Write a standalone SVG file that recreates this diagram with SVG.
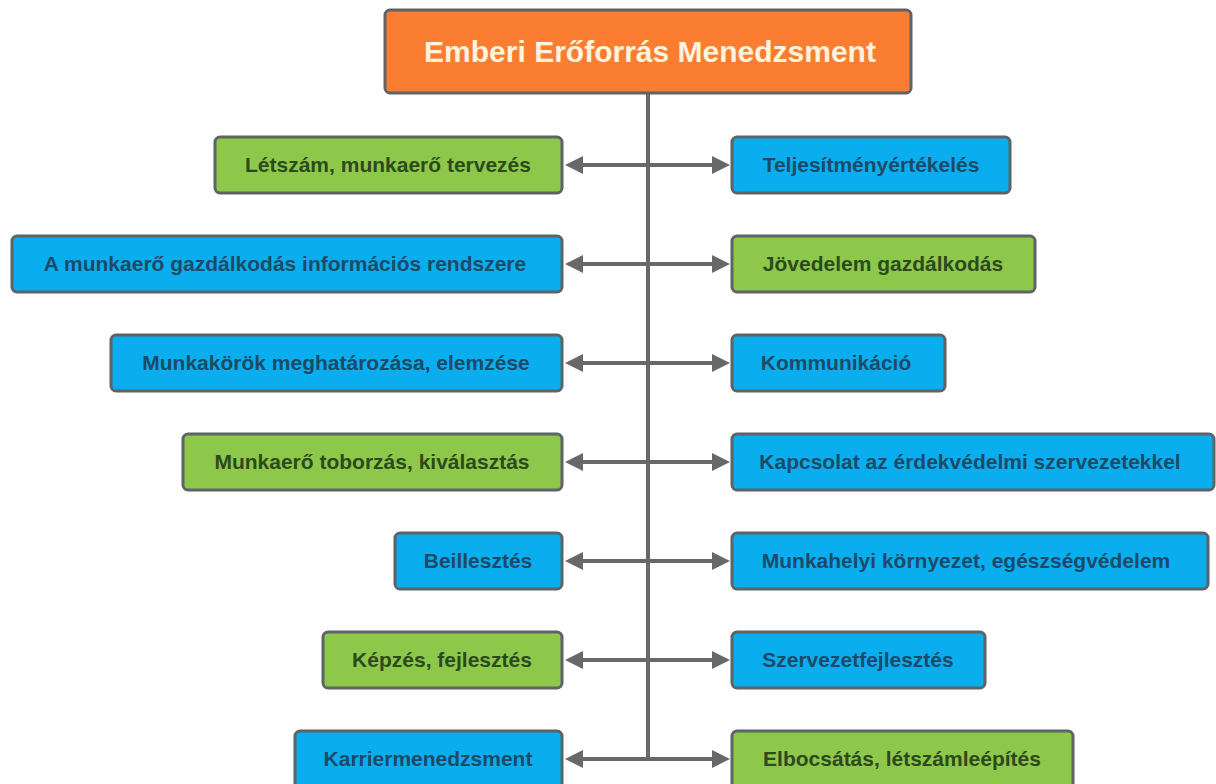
<svg xmlns="http://www.w3.org/2000/svg" width="1216" height="784" viewBox="0 0 1216 784">
  <style>
    .box { stroke: #5d6367; stroke-width: 3; }
    .blue { fill: #0aaeef; }
    .green { fill: #8dc84b; }
    .title { fill: #fa7d32; }
    .lbl { font-family: "Liberation Sans", Arial, sans-serif; font-weight: bold; font-size: 21px; text-anchor: middle; }
    .tb { fill: #1d4a66; }
    .tg { fill: #2c4a1d; }
    .tt { fill: #fff3dc; font-size: 30px; }
    .wire { stroke: #686868; stroke-width: 4; fill: none; }
  </style>
  <defs>
    <marker id="arrow" markerUnits="userSpaceOnUse" markerWidth="20" markerHeight="20" refX="8" refY="9" orient="auto">
      <path d="M0,0 L18,9 L0,18 z" fill="#686868"/>
    </marker>
  </defs>
  <rect width="1216" height="784" fill="#ffffff"/>

  <!-- connectors: central spine and a two-way branch per row -->
  <g id="connectors" class="wire">
    <path d="M648,93 V760"/>
    <path d="M648,165 H575" marker-end="url(#arrow)"/>
    <path d="M648,165 H720" marker-end="url(#arrow)"/>
    <path d="M648,264 H575" marker-end="url(#arrow)"/>
    <path d="M648,264 H720" marker-end="url(#arrow)"/>
    <path d="M648,363 H575" marker-end="url(#arrow)"/>
    <path d="M648,363 H720" marker-end="url(#arrow)"/>
    <path d="M648,462 H575" marker-end="url(#arrow)"/>
    <path d="M648,462 H720" marker-end="url(#arrow)"/>
    <path d="M648,561 H575" marker-end="url(#arrow)"/>
    <path d="M648,561 H720" marker-end="url(#arrow)"/>
    <path d="M648,660 H575" marker-end="url(#arrow)"/>
    <path d="M648,660 H720" marker-end="url(#arrow)"/>
    <path d="M648,759 H575" marker-end="url(#arrow)"/>
    <path d="M648,759 H720" marker-end="url(#arrow)"/>
  </g>

  <g id="root">
    <rect class="box title" x="385" y="10" width="526" height="83" rx="5"/>
    <text class="lbl tt" x="650" y="62">Emberi Erőforrás Menedzsment</text>
  </g>

  <!-- left column -->
  <g id="letszam">
    <rect class="box green" x="215" y="137" width="347" height="56" rx="5"/>
    <text class="lbl tg" x="388" y="172">Létszám, munkaerő tervezés</text>
  </g>
  <g id="informacios">
    <rect class="box blue" x="12" y="236" width="550" height="56" rx="5"/>
    <text class="lbl tb" x="285" y="271">A munkaerő gazdálkodás információs rendszere</text>
  </g>
  <g id="munkakorok">
    <rect class="box blue" x="111" y="335" width="451" height="56" rx="5"/>
    <text class="lbl tb" x="336" y="370">Munkakörök meghatározása, elemzése</text>
  </g>
  <g id="toborzas">
    <rect class="box green" x="183" y="434" width="379" height="56" rx="5"/>
    <text class="lbl tg" x="372" y="469">Munkaerő toborzás, kiválasztás</text>
  </g>
  <g id="beillesztes">
    <rect class="box blue" x="395" y="533" width="167" height="56" rx="5"/>
    <text class="lbl tb" x="478" y="568">Beillesztés</text>
  </g>
  <g id="kepzes">
    <rect class="box green" x="323" y="632" width="239" height="56" rx="5"/>
    <text class="lbl tg" x="442" y="667">Képzés, fejlesztés</text>
  </g>
  <g id="karrier">
    <rect class="box blue" x="295" y="731" width="267" height="60" rx="5"/>
    <text class="lbl tb" x="428" y="766">Karriermenedzsment</text>
  </g>

  <!-- right column -->
  <g id="teljesitmeny">
    <rect class="box blue" x="732" y="137" width="278" height="56" rx="5"/>
    <text class="lbl tb" x="871" y="172">Teljesítményértékelés</text>
  </g>
  <g id="jovedelem">
    <rect class="box green" x="732" y="236" width="303" height="56" rx="5"/>
    <text class="lbl tg" x="883" y="271">Jövedelem gazdálkodás</text>
  </g>
  <g id="kommunikacio">
    <rect class="box blue" x="732" y="335" width="213" height="56" rx="5"/>
    <text class="lbl tb" x="836" y="370">Kommunikáció</text>
  </g>
  <g id="kapcsolat">
    <rect class="box blue" x="732" y="434" width="482" height="56" rx="5"/>
    <text class="lbl tb" x="970" y="469">Kapcsolat az érdekvédelmi szervezetekkel</text>
  </g>
  <g id="munkahelyi">
    <rect class="box blue" x="732" y="533" width="476" height="56" rx="5"/>
    <text class="lbl tb" x="966" y="568">Munkahelyi környezet, egészségvédelem</text>
  </g>
  <g id="szervezetfejlesztes">
    <rect class="box blue" x="732" y="632" width="253" height="56" rx="5"/>
    <text class="lbl tb" x="858" y="667">Szervezetfejlesztés</text>
  </g>
  <g id="elbocsatas">
    <rect class="box green" x="732" y="731" width="341" height="60" rx="5"/>
    <text class="lbl tg" x="902" y="766">Elbocsátás, létszámleépítés</text>
  </g>
</svg>
